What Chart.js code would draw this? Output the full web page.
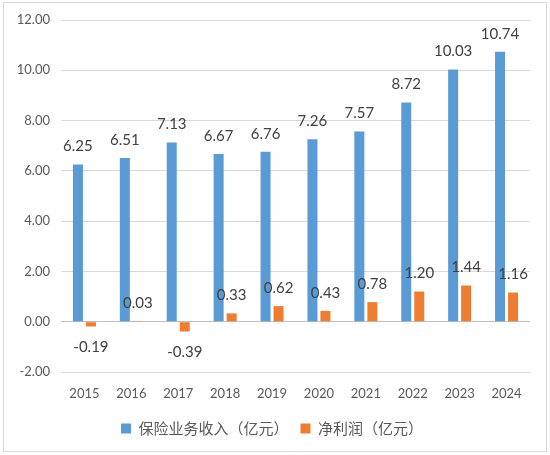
<!DOCTYPE html>
<html>
<head>
<meta charset="utf-8">
<script src="https://cdn.jsdelivr.net/npm/chart.js@4.4.1/dist/chart.umd.min.js"></script>
<style>
html,body{margin:0;padding:0;background:#fff;}
#wrap{width:550px;height:455px;position:relative;}
</style>
</head>
<body>
<div id="wrap"><canvas id="c"></canvas></div>
<script>
const categories = ['2015','2016','2017','2018','2019','2020','2021','2022','2023','2024'];
const premiumIncome = [6.25, 6.51, 7.13, 6.67, 6.76, 7.26, 7.57, 8.72, 10.03, 10.74];
const netProfit = [-0.19, 0.03, -0.39, 0.33, 0.62, 0.43, 0.78, 1.20, 1.44, 1.16];
const seriesNames = ['保险业务收入（亿元）', '净利润（亿元）'];
const yTicks = {min: -2, max: 12, step: 2};

const numFont = 'Lato, "Noto Sans", sans-serif';
const cjkFont = '"Noto Sans CJK SC", "Noto Sans", sans-serif';

const labelPlugin = {
  id: 'valueLabels',
  afterDatasetsDraw(chart) {
    const ctx = chart.ctx;
    ctx.save();
    ctx.font = '15px ' + numFont;
    ctx.fillStyle = '#404040';
    ctx.textAlign = 'center';
    ctx.textBaseline = 'middle';
    chart.data.datasets.forEach((ds, di) => {
      const meta = chart.getDatasetMeta(di);
      meta.data.forEach((el, i) => {
        const v = ds.data[i];
        const y = v >= 0 ? el.y - 18 : el.y + 21;
        ctx.fillText(v.toFixed(2), el.x, y);
      });
    });
    ctx.restore();
  }
};

const borderPlugin = {
  id: 'outerBorder',
  beforeDraw(chart) {
    const ctx = chart.ctx;
    ctx.save();
    ctx.fillStyle = '#fff';
    ctx.fillRect(0, 0, chart.width, chart.height);
    ctx.strokeStyle = '#D9D9D9';
    ctx.lineWidth = 1;
    ctx.strokeRect(3.5, 2.5, 543, 449);
    ctx.restore();
  }
};

new Chart(document.getElementById('c'), {
  type: 'bar',
  data: {
    labels: categories,
    datasets: [
      {label: seriesNames[0], data: premiumIncome, backgroundColor: '#5B9BD5', barPercentage: 0.77, categoryPercentage: 0.555},
      {label: seriesNames[1], data: netProfit, backgroundColor: '#ED7D31', barPercentage: 0.77, categoryPercentage: 0.555}
    ]
  },
  options: {
    responsive: true,
    maintainAspectRatio: false,
    animation: false,
    devicePixelRatio: 1,
    layout: {padding: {left: 14, right: 20, top: 20, bottom: 9}},
    plugins: {
      tooltip: {enabled: false},
      legend: {
        position: 'bottom',
        labels: {
          boxWidth: 10,
          boxHeight: 10,
          padding: 12,
          color: '#595959',
          font: {family: cjkFont, size: 15}
        }
      }
    },
    scales: {
      x: {
        grid: {display: false, drawTicks: false},
        border: {display: false},
        ticks: {color: '#595959', padding: 14, font: {family: numFont, size: 13}},
        afterFit(s) { s.height = 37; }
      },
      y: {
        min: yTicks.min,
        max: yTicks.max,
        ticks: {
          stepSize: yTicks.step,
          color: '#595959',
          padding: 11,
          font: {family: numFont, size: 13},
          callback: v => Number(v).toFixed(2)
        },
        grid: {
          drawTicks: false,
          color: ctx => (ctx.tick && ctx.tick.value === 0) ? '#BFBFBF' : '#D9D9D9',
          lineWidth: 1
        },
        border: {display: false},
        afterFit(s) { s.width = 47; }
      }
    }
  },
  plugins: [borderPlugin, labelPlugin]
});
</script>
</body>
</html>
